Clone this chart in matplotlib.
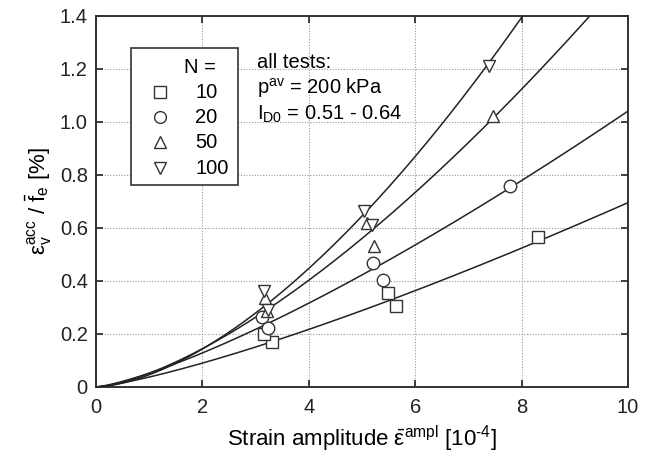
import numpy as np
import matplotlib
matplotlib.use("Agg")
import matplotlib.pyplot as plt
from matplotlib.patches import Rectangle

plt.rcParams['font.family'] = ['Liberation Sans', 'DejaVu Sans']
plt.rcParams['mathtext.fontset'] = 'custom'
plt.rcParams['mathtext.rm'] = 'Liberation Sans'
plt.rcParams['mathtext.it'] = 'Liberation Sans'
plt.rcParams['mathtext.bf'] = 'Liberation Sans:bold'

# number of cycles and marker per series
cycles = ['10', '20', '50', '100']
markers = ['s', 'o', '^', 'v']

# measured points (strain amplitude [1e-4], eps_acc / f_e [%])
x_n10 = [3.30, 3.15, 5.49, 5.64, 8.31]
y_n10 = [0.17, 0.20, 0.355, 0.305, 0.567]
x_n20 = [3.11, 3.24, 5.21, 5.39, 7.78]
y_n20 = [0.263, 0.221, 0.469, 0.404, 0.756]
x_n50 = [3.18, 3.21, 5.23, 5.09, 7.47]
y_n50 = [0.335, 0.285, 0.53, 0.618, 1.023]
x_n100 = [3.15, 3.24, 5.03, 5.18, 7.38]
y_n100 = [0.36, 0.29, 0.662, 0.611, 1.209]

xs = [x_n10, x_n20, x_n50, x_n100]
ys = [y_n10, y_n20, y_n50, y_n100]

# fitted curves y = a * x**b
fit_a = [0.0373, 0.0521, 0.0517, 0.046]
fit_b = [1.27, 1.30, 1.48, 1.64]

fig = plt.figure(figsize=(6.63, 4.59), dpi=100)
ax = fig.add_axes([0.145, 0.157, 0.802, 0.809])

xx = np.linspace(0, 10, 400)
for a, b in zip(fit_a, fit_b):
    ax.plot(xx, a * xx**b, color='#222222', lw=1.1, zorder=3)

mstyle = dict(linestyle='none', markersize=9, mfc='white', mec='#333333', mew=1.0)
for x, y, m in zip(xs, ys, markers):
    ax.plot(x, y, marker=m, zorder=4, **mstyle)

ax.set_xlim(0, 10)
ax.set_ylim(0, 1.4)
ax.set_xticks(np.arange(0, 11, 2))
ax.set_yticks(np.arange(0, 1.41, 0.2))
ax.set_xticklabels(['0', '2', '4', '6', '8', '10'])
ax.set_yticklabels(['0', '0.2', '0.4', '0.6', '0.8', '1.0', '1.2', '1.4'])
ax.tick_params(direction='in', length=5, width=1.2, top=True, right=True,
               labelsize=14.5, colors='#222222')
ax.tick_params(axis='y', pad=6)
ax.tick_params(axis='x', pad=8)
ax.grid(True, linestyle=(0, (1, 1.5)), color='#999999', lw=0.8)
for s in ax.spines.values():
    s.set_linewidth(1.4)
    s.set_color('#333333')

ax.set_xlabel('Strain amplitude $\\bar{\\mathregular{\\varepsilon}}^{\\mathregular{ampl}}$ [10$^{\\mathregular{\u2010 4}}$]'.replace('\u2010 ', '\u2010'),
              fontsize=16, labelpad=5)
ax.set_ylabel(r'$\mathregular{\varepsilon_v^{acc}}$ / $\bar{\mathregular{f}}_{\mathregular{e}}$ [%]',
              fontsize=16, labelpad=4)

# legend drawn by hand so it matches the boxed layout
ax.add_patch(Rectangle((0.066, 0.543), 0.201, 0.371, transform=ax.transAxes,
                       facecolor='white', edgecolor='#333333', lw=1.2, zorder=5))
ax.text(0.165, 0.860, 'N =', transform=ax.transAxes, fontsize=14.5,
        va='center', ha='left', zorder=6)
rows = [0.793, 0.726, 0.659, 0.589]
for lab, m, ry in zip(cycles, markers, rows):
    ax.plot([0.120], [ry], marker=m, transform=ax.transAxes, zorder=6,
            clip_on=False, **dict(mstyle, markersize=8.5))
    ax.text(0.186, ry, lab, transform=ax.transAxes, fontsize=14.5,
            va='center', ha='left', zorder=6)

ax.text(0.303, 0.898, 'all tests:\n$\\mathregular{p^{av}}$ = 200 kPa\n$\\mathregular{I_{D0}}$ = 0.51 - 0.64',
        transform=ax.transAxes, fontsize=14.5, va='top', ha='left', linespacing=1.2)

fig.savefig('out.png', dpi=100)
